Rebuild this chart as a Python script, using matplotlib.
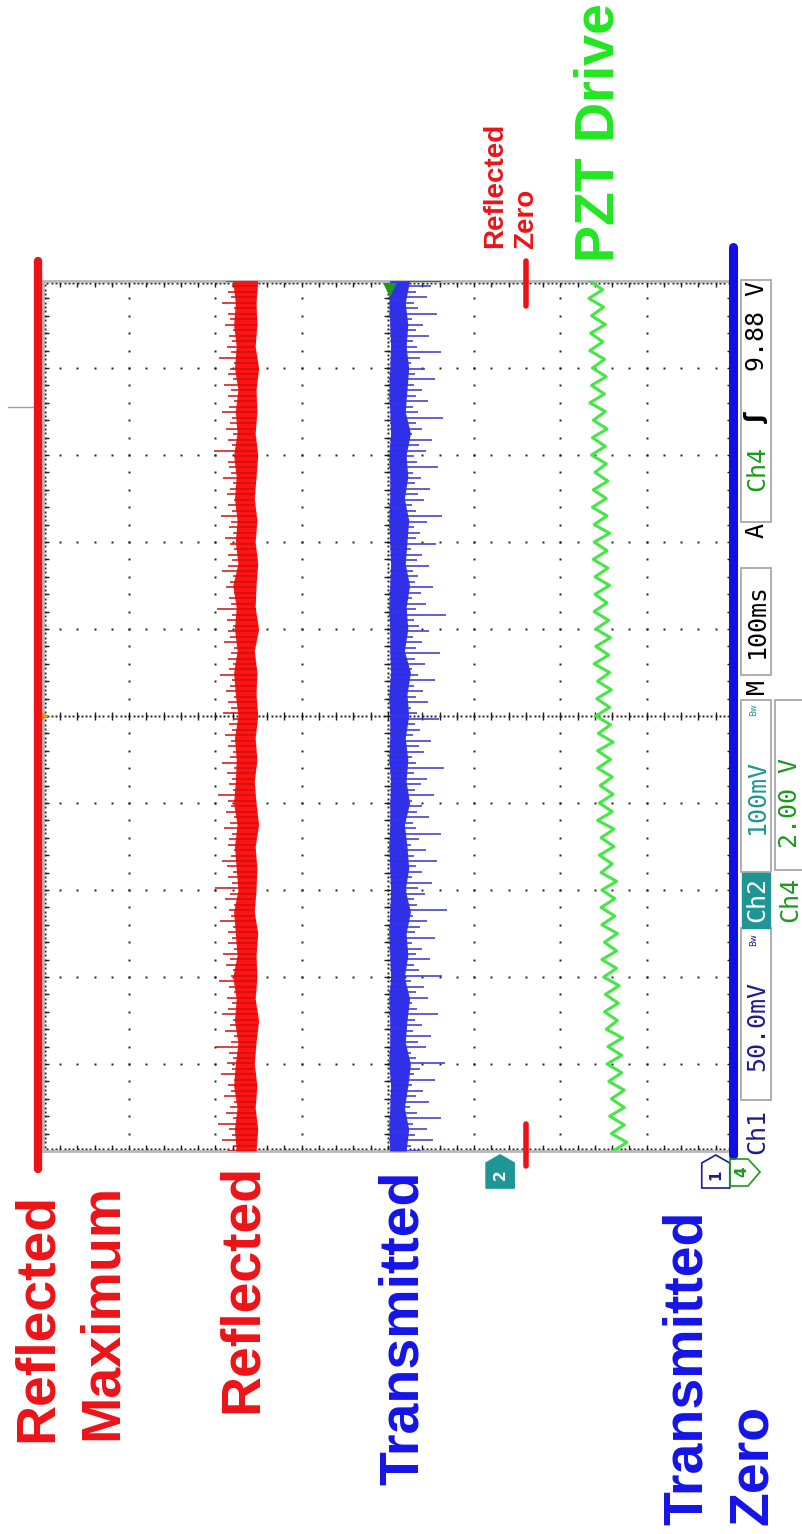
import numpy as np
import matplotlib
matplotlib.use("Agg")
import matplotlib.pyplot as plt
from matplotlib.patches import Rectangle, Polygon
from matplotlib.lines import Line2D
from matplotlib.transforms import ScaledTranslation

# scope screen, rotated 90 deg: time (100 ms/div) runs upward, volts run leftward
# all levels are in screen divisions from the centre line
sweep_ms = (-500, 500)
reflected_max = 4.06
reflected_zero = -1.60
transmitted_zero = -4.00
ch2_ground = -1.30
ch1_ground = -3.80

red_core_hi = [1.76, 1.78, 1.75, 1.79, 1.77, 1.74, 1.78, 1.76, 1.80, 1.75,
               1.77, 1.79, 1.74, 1.76, 1.78, 1.75, 1.79, 1.77, 1.76, 1.78,
               1.74, 1.77, 1.79, 1.75, 1.78, 1.76, 1.80, 1.74, 1.77, 1.75,
               1.78, 1.76, 1.79, 1.75, 1.77, 1.74, 1.78, 1.76, 1.79, 1.77, 1.80]
red_core_lo = [1.53, 1.51, 1.54, 1.52, 1.55, 1.53, 1.50, 1.54, 1.52, 1.53,
               1.51, 1.55, 1.53, 1.52, 1.54, 1.50, 1.53, 1.55, 1.52, 1.54,
               1.51, 1.53, 1.52, 1.55, 1.50, 1.54, 1.53, 1.51, 1.54, 1.52,
               1.55, 1.53, 1.51, 1.54, 1.52, 1.53, 1.50, 1.54, 1.52, 1.53, 1.51]
red_spike = [1.86, 1.79, 1.92, 1.81, 1.84, 1.97, 1.80, 1.88, 1.83, 1.78,
             1.90, 1.82, 1.85, 1.79, 1.94, 1.81, 1.87, 1.80, 1.84, 1.99,
             1.82, 1.79, 1.89, 1.83, 1.80, 1.93, 1.85, 1.81, 1.87, 1.79,
             1.84, 1.96, 1.82, 1.80, 1.88, 1.83, 1.91, 1.79, 1.85, 1.81,
             1.86, 1.80, 1.95, 1.82, 1.84, 1.79, 1.89, 1.83, 2.01, 1.81,
             1.85, 1.80, 1.87, 1.92, 1.82, 1.79, 1.86, 1.84, 1.81, 1.90,
             1.83, 1.79, 1.88, 1.82, 1.85, 1.97, 1.80, 1.84, 1.81, 1.87,
             1.79, 1.93, 1.83, 1.80, 1.86, 1.82, 1.89, 1.81, 1.84, 1.80,
             1.91, 1.82, 1.85, 1.79, 1.88, 1.83, 1.81, 1.95, 1.84, 1.80,
             1.86, 1.82, 1.79, 1.90, 1.83, 1.85, 1.80, 1.87, 1.81, 1.98,
             1.82, 1.84, 1.79, 1.88, 1.83, 1.80, 1.92, 1.85, 1.81, 1.86,
             1.79, 1.83, 1.89, 1.80, 1.84, 1.82, 1.94, 1.81, 1.85, 1.79,
             1.87, 1.83, 1.80, 1.91, 1.82, 1.84, 1.86, 1.79, 2.02, 1.81,
             1.85, 1.80, 1.88, 1.83, 1.81, 1.93, 1.84, 1.79, 1.86, 1.82,
             1.90, 1.80, 1.85, 1.83, 1.79, 1.96, 1.82, 1.87, 1.81, 1.84,
             1.80, 1.89, 1.83, 1.85, 1.79, 1.92, 1.82, 1.86, 1.81, 1.88]

blue_core_hi = [-0.02, -0.01, -0.02, -0.03, -0.01, -0.02, -0.02, -0.01, -0.03, -0.02,
                -0.01, -0.02, -0.03, -0.02, -0.01, -0.02, -0.02, -0.03, -0.01, -0.02,
                -0.02, -0.01, -0.03, -0.02, -0.02, -0.01, -0.02, -0.03, -0.02, -0.01,
                -0.02, -0.02, -0.01, -0.03, -0.02, -0.01, -0.02, -0.03, -0.02, -0.01, -0.02]
blue_core_lo = [-0.21, -0.24, -0.19, -0.23, -0.26, -0.20, -0.22, -0.25, -0.19, -0.23,
                -0.21, -0.26, -0.20, -0.24, -0.22, -0.19, -0.25, -0.21, -0.23, -0.20,
                -0.24, -0.22, -0.26, -0.19, -0.23, -0.21, -0.25, -0.20, -0.22, -0.24,
                -0.19, -0.23, -0.21, -0.26, -0.20, -0.22, -0.24, -0.21, -0.23, -0.20, -0.25]
blue_spike = [-0.38, -0.27, -0.52, -0.31, -0.45, -0.29, -0.61, -0.34, -0.26, -0.48,
              -0.33, -0.41, -0.28, -0.55, -0.30, -0.37, -0.66, -0.32, -0.27, -0.44,
              -0.35, -0.50, -0.29, -0.39, -0.31, -0.58, -0.34, -0.28, -0.46, -0.33,
              -0.42, -0.27, -0.63, -0.36, -0.30, -0.49, -0.32, -0.40, -0.28, -0.54,
              -0.31, -0.37, -0.45, -0.29, -0.68, -0.34, -0.30, -0.43, -0.35, -0.51,
              -0.28, -0.39, -0.32, -0.57, -0.30, -0.44, -0.27, -0.36, -0.62, -0.33,
              -0.29, -0.47, -0.34, -0.40, -0.28, -0.53, -0.31, -0.38, -0.45, -0.30,
              -0.65, -0.33, -0.28, -0.42, -0.36, -0.50, -0.29, -0.37, -0.31, -0.59,
              -0.34, -0.27, -0.46, -0.32, -0.41, -0.30, -0.55, -0.35, -0.28, -0.43,
              -0.31, -0.60, -0.33, -0.39, -0.29, -0.48, -0.36, -0.30, -0.67, -0.32,
              -0.44, -0.28, -0.38, -0.52, -0.31, -0.35, -0.29, -0.47, -0.34, -0.40,
              -0.27, -0.56, -0.32, -0.37, -0.30, -0.45, -0.63, -0.33, -0.28, -0.42,
              -0.35, -0.49, -0.31, -0.38, -0.29, -0.58, -0.34, -0.30, -0.44, -0.36,
              -0.51, -0.28, -0.40, -0.32, -0.64, -0.35, -0.29, -0.46, -0.33, -0.39,
              -0.30, -0.54, -0.31, -0.43, -0.27, -0.37, -0.61, -0.34, -0.29, -0.48,
              -0.32, -0.41, -0.28, -0.57, -0.35, -0.30, -0.45, -0.33, -0.50, -0.62]

pzt_drive = [-2.61, -2.77, -2.59, -2.74, -2.57, -2.74, -2.59, -2.74, -2.56, -2.71,
             -2.54, -2.71, -2.55, -2.72, -2.53, -2.66, -2.51, -2.67, -2.52, -2.68,
             -2.50, -2.65, -2.48, -2.65, -2.51, -2.66, -2.48, -2.63, -2.47, -2.63,
             -2.48, -2.65, -2.47, -2.60, -2.45, -2.62, -2.47, -2.62, -2.43, -2.60,
             -2.45, -2.61, -2.46, -2.60, -2.43, -2.58, -2.43, -2.61, -2.44, -2.58,
             -2.41, -2.57, -2.42, -2.59, -2.43, -2.57, -2.39, -2.56, -2.41, -2.58,
             -2.41, -2.56, -2.39, -2.54, -2.40, -2.57, -2.40, -2.55, -2.38, -2.54,
             -2.39, -2.57, -2.39, -2.54, -2.37, -2.53, -2.38, -2.55, -2.40, -2.53,
             -2.36, -2.52, -2.37, -2.54, -2.38, -2.52, -2.34, -2.51, -2.36, -2.53,
             -2.37, -2.51, -2.34, -2.49, -2.35, -2.52, -2.36, -2.50, -2.33, -2.49, -2.34]

RED = "#ec1318"
BLUE = "#1414e8"
GREEN = "#22e622"
NAVY = "#1c1c8a"
TEAL = "#1f9696"
CH4 = "#1a9a1a"
W, H = 803, 1534

fig = plt.figure(figsize=(W / 100, H / 100), dpi=100)
fig.patch.set_facecolor("white")
ax = fig.add_axes([43 / W, 1 - 1151 / H, 690 / W, 870 / H])
ax.set_xlim(4, -4)
ax.set_ylim(*sweep_ms)
ax.set_xticks([])
ax.set_yticks([])
for s in ax.spines.values():
    s.set_color("#b8b8b8")
    s.set_linewidth(2)

# graticule
dot = dict(ls="none", marker="s", ms=1.4, mew=0, color="#1e1e1e", zorder=1)
t_dots = np.arange(-500, 501, 20)
v_dots = np.arange(-4, 4.01, 0.2)
for v in [-3, -2, -1, 1, 2, 3]:
    ax.plot(np.full(t_dots.size, v), t_dots, **dot)
for t in [-400, -300, -200, -100, 100, 200, 300, 400]:
    ax.plot(v_dots, np.full(v_dots.size, t), **dot)
fine_t = np.arange(-500, 501, 5)
fine_v = np.arange(-4, 4.01, 0.05)
ax.plot(np.zeros(fine_t.size), fine_t, **dot)
ax.plot(fine_v, np.zeros(fine_v.size), **dot)
ax.plot(np.zeros(t_dots.size), t_dots, ls="none", marker="_", ms=6, mew=1, color="#1e1e1e")
ax.plot(v_dots, np.zeros(v_dots.size), ls="none", marker="|", ms=6, mew=1, color="#1e1e1e")
for v in (4, -4):
    ax.plot(np.full(fine_t.size, v * 0.995), fine_t, **dot)
    ax.plot(np.full(t_dots.size, v), t_dots, ls="none", marker="_", ms=8, mew=1, color="#1e1e1e")
for t in sweep_ms:
    ax.plot(fine_v, np.full(fine_v.size, t * 0.995), **dot)
    ax.plot(v_dots, np.full(v_dots.size, t), ls="none", marker="|", ms=8, mew=1, color="#1e1e1e")

# traces
t_core = np.linspace(*sweep_ms, len(red_core_hi))
t_red = np.linspace(*sweep_ms, len(red_spike))
ax.fill_betweenx(t_core, red_core_lo, red_core_hi, color="#ff1414", lw=0, zorder=3)
ax.hlines(t_red, np.interp(t_red, t_core, red_core_lo), red_spike, color="#d01010", lw=1.1, zorder=3)

t_bcore = np.linspace(*sweep_ms, len(blue_core_hi))
t_blue = np.linspace(*sweep_ms, len(blue_spike))
ax.fill_betweenx(t_bcore, blue_core_lo, blue_core_hi, color="#2f2ff5", lw=0, zorder=3)
ax.hlines(t_blue, np.interp(t_blue, t_bcore, blue_core_hi), blue_spike, color="#3434c8", lw=1.1, zorder=3)

t_pzt = np.linspace(*sweep_ms, len(pzt_drive))
ax.plot(pzt_drive, t_pzt, color="#46e646", lw=2.2, zorder=3)

# reference levels
ax.plot([reflected_max] * 2, [-521, 523], color=RED, lw=6, solid_capstyle="round", clip_on=False, zorder=5)
ax.plot([transmitted_zero] * 2, [-505, 539], color="#0f0fe6", lw=6.5, solid_capstyle="round", clip_on=False, zorder=5)
ax.plot([reflected_zero] * 2, [471, 523], color=RED, lw=4, solid_capstyle="round", clip_on=False, zorder=5)
ax.plot([reflected_zero] * 2, [-517, -469], color=RED, lw=4, solid_capstyle="round", clip_on=False, zorder=5)
ax.plot(4, 0, marker=">", ms=9, color="#ff8a00", mew=0, clip_on=False, zorder=4)
ax.plot(-0.02, 490, marker="v", ms=10, color=CH4, mew=0, clip_on=False, zorder=4)


def ground_marker(v, pts, fc, ec, label, tc, dx, dy):
    tr = fig.dpi_scale_trans + ScaledTranslation(v, sweep_ms[0], ax.transData)
    poly = Polygon(np.array(pts) / 100, closed=True, fc=fc, ec=ec, lw=1.2, transform=tr, clip_on=False, zorder=6)
    fig.add_artist(poly)
    fig.text(dx / 100, dy / 100, label, transform=tr, rotation=90, ha="center", va="center",
             color=tc, fontsize=11, fontweight="bold", family="DejaVu Sans", zorder=8)


arrow_up = [(0, -4), (14, -12), (14, -37), (-14, -37), (-14, -12)]
ground_marker(ch2_ground, arrow_up, TEAL, TEAL, "2", "white", 0, -24)
ground_marker(ch1_ground, arrow_up, "white", NAVY, "1", NAVY, 0, -24)
ground_marker(transmitted_zero, [(-3, -8), (15, -8), (27, -21), (15, -35), (-3, -35)],
              "none", CH4, "4", CH4, 9, -21)

fig.add_artist(Line2D([8 / W, 33 / W], [1 - 407 / H] * 2, color="#a0a0a0", lw=1))


def ftext(px, py, s, **kw):
    fig.text(px / W, 1 - py / H, s, rotation=90, rotation_mode="anchor", **kw)


big = dict(fontsize=40, fontweight="bold", family="Liberation Sans", ha="left", va="baseline")
ftext(52, 1442, "Reflected", color=RED, **big)
ftext(117, 1440, "Maximum", color=RED, **big)
ftext(257, 1413, "Reflected", color=RED, **big)
ftext(418, 1485, "Transmitted", color=BLUE, **big)
ftext(702, 1525, "Transmitted", color=BLUE, **big)
ftext(767, 1525, "Zero", color=BLUE, **big)
ftext(613, 262, "PZT Drive", color=GREEN, **big)
small = dict(fontsize=20, fontweight="bold", family="Liberation Sans", ha="left", va="baseline")
ftext(502, 248, "Reflected", color=RED, **small)
ftext(533, 249, "Zero", color=RED, **small)

# status readout
for y0, y1, x0, x1 in [(928, 1100, 741, 771), (700, 872, 741, 771), (568, 675, 741, 771),
                       (280, 522, 741, 771), (700, 870, 775, 805)]:
    fig.add_artist(Rectangle((x0 / W, 1 - y1 / H), (x1 - x0) / W, (y1 - y0) / H,
                             fc="white", ec="#a8a8a8", lw=1.3, transform=fig.transFigure))
fig.add_artist(Rectangle((742 / W, 1 - 928 / H), 28 / W, 55 / H, fc=TEAL, ec=TEAL,
                         transform=fig.transFigure))
st = dict(fontsize=18, family="DejaVu Sans Mono", ha="center", va="center")
ftext(757, 1131, "Ch1", color=NAVY, **st)
ftext(757, 1026, "50.0mV", color=NAVY, **st)
ftext(754, 940, "Bw", color=NAVY, fontsize=6, ha="center", va="center")
ftext(757, 900, "Ch2", color="white", **st)
ftext(757, 796, "100mV", color=TEAL, **st)
ftext(754, 710, "Bw", color=TEAL, fontsize=6, ha="center", va="center")
ftext(757, 686, "M", color="black", **st)
ftext(757, 621, "100ms", color="black", **st)
ftext(757, 531, "A", color="black", **st)
ftext(757, 468, "Ch4", color=CH4, **st)
ftext(757, 418, "ʃ", color="black", fontsize=18, fontweight="bold", family="DejaVu Sans",
      ha="center", va="center")
ftext(757, 326, "9.88 V", color="black", **st)
ftext(790, 899, "Ch4", color=CH4, **st)
ftext(790, 803, "2.00 V", color=CH4, **st)

fig.savefig("out.png", dpi=100, facecolor="white")
